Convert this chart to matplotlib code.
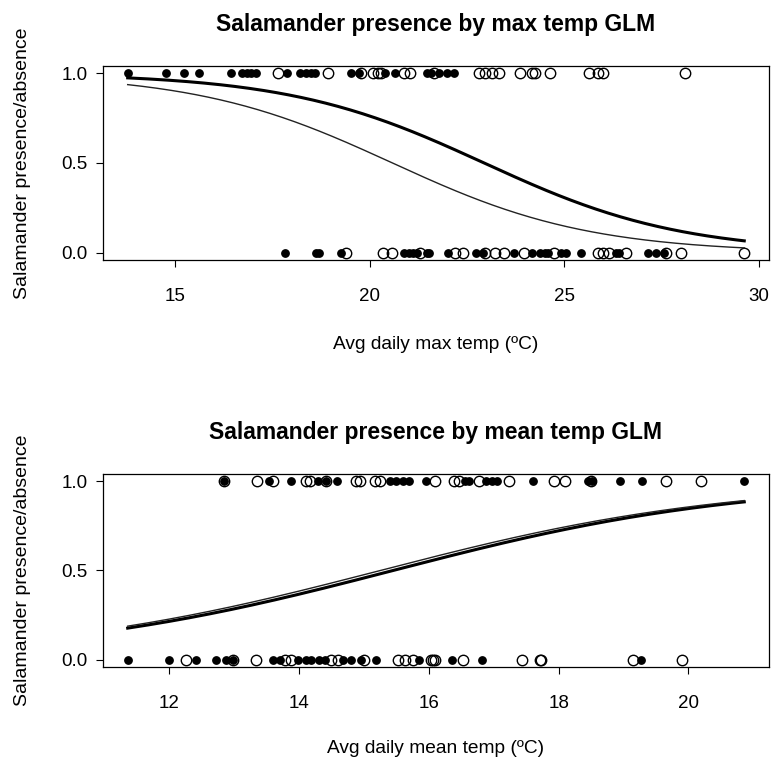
import numpy as np
import matplotlib
matplotlib.use('Agg')
import matplotlib.pyplot as plt

plt.rcParams['font.family'] = ['Liberation Sans', 'DejaVu Sans']

# Max temp panel: points at presence (1) and absence (0)
max_filled_1 = [13.78, 14.77, 15.23, 15.61, 16.43, 16.71, 16.85, 16.96, 17.07, 17.86, 18.21,
                18.36, 18.49, 18.6, 19.52, 19.72, 20.4, 20.64, 21.48, 21.56, 21.79, 21.99, 22.17]
max_open_1 = [17.65, 18.92, 19.77, 20.08, 20.2, 20.3, 20.89, 21.02, 21.66, 22.81, 22.96, 23.14,
              23.32, 23.85, 24.17, 24.25, 24.62, 25.64, 25.87, 25.99, 28.1]
max_filled_0 = [17.83, 18.62, 18.7, 19.25, 20.89, 21.0, 21.1, 21.2, 21.48, 21.53, 22.02, 22.73,
                22.9, 23.7, 24.16, 24.36, 24.5, 24.59, 24.92, 25.05, 25.43, 26.33, 26.4,
                27.14, 27.35, 27.55]
max_open_0 = [19.39, 20.33, 20.57, 21.28, 22.19, 22.4, 22.96, 23.22, 23.45, 23.97, 24.72, 25.85,
              26.0, 26.15, 26.58, 27.6, 27.99, 29.62]

# Mean temp panel
mean_filled_1 = [12.84, 13.53, 13.87, 14.29, 14.42, 14.58, 15.4, 15.5, 15.6, 15.7, 15.96,
                 16.56, 16.62, 16.88, 16.97, 17.05, 17.6, 18.45, 18.52, 18.95, 19.28, 20.86]
mean_open_1 = [12.84, 13.36, 13.6, 14.11, 14.17, 14.42, 14.88, 14.94, 15.17, 15.25, 16.1, 16.39,
               16.46, 16.78, 17.23, 17.93, 18.1, 18.5, 19.65, 20.19]
mean_filled_0 = [11.36, 12.0, 12.42, 12.72, 12.88, 12.99, 13.6, 13.7, 13.99, 14.11, 14.19,
                 14.3, 14.4, 14.67, 14.8, 14.95, 15.19, 15.85, 16.36, 16.82, 19.27]
mean_open_0 = [12.26, 12.99, 13.34, 13.79, 13.87, 14.5, 14.6, 15.0, 15.53, 15.63, 15.76, 16.04,
               16.07, 16.1, 16.53, 17.43, 17.72, 17.73, 19.15, 19.9]

# GLM curves (intercept, slope)
max_thick_coef = (9.06, -0.395)
max_thin_coef = (8.13, -0.395)
mean_thick_coef = (-5.794, 0.375)
mean_thin_coef = (-5.72, 0.375)

titles = ['Salamander presence by max temp GLM', 'Salamander presence by mean temp GLM']
xlabels = ['Avg daily max temp (ºC)', 'Avg daily mean temp (ºC)']
xticks = [[15, 20, 25, 30], [12, 14, 16, 18, 20]]


def logistic(x, coef):
    return 1 / (1 + np.exp(-(coef[0] + coef[1] * x)))


fig = plt.figure(figsize=(7.77, 7.62), dpi=100)
ax_top = fig.add_axes([0.1326, 0.6588, 0.857, 0.2546])
ax_bot = fig.add_axes([0.1326, 0.1247, 0.857, 0.2533])

panels = [
    (ax_top, max_filled_1, max_open_1, max_filled_0, max_open_0, max_thick_coef, max_thin_coef, -0.438),
    (ax_bot, mean_filled_1, mean_open_1, mean_filled_0, mean_open_0, mean_thick_coef, mean_thin_coef, -0.42),
]

for i, (ax, f1, o1, f0, o0, thick, thin, xlab_y) in enumerate(panels):
    allx = f1 + o1 + f0 + o0
    lo, hi = min(allx), max(allx)
    ext = (hi - lo) * 0.04

    ax.plot(f1, np.ones(len(f1)), 'o', color='black', markersize=5.3, linestyle='none')
    ax.plot(f0, np.zeros(len(f0)), 'o', color='black', markersize=5.3, linestyle='none')
    ax.plot(o1, np.ones(len(o1)), 'o', mfc='none', mec='black', markersize=7.5, mew=1.0, linestyle='none')
    ax.plot(o0, np.zeros(len(o0)), 'o', mfc='none', mec='black', markersize=7.5, mew=1.0, linestyle='none')

    xs = np.linspace(lo, hi, 300)
    ax.plot(xs, logistic(xs, thick), color='black', lw=2.2)
    ax.plot(xs, logistic(xs, thin), color='#222222', lw=1.0)

    ax.set_xlim(lo - ext, hi + ext)
    ax.set_ylim(-0.04, 1.04)
    ax.set_xticks(xticks[i])
    ax.set_yticks([0.0, 0.5, 1.0])
    ax.set_yticklabels(['0.0', '0.5', '1.0'])
    ax.tick_params(axis='x', length=5, width=0.8, pad=15, labelsize=13.5)
    ax.tick_params(axis='y', length=5, width=0.8, pad=6, labelsize=13.5)
    for s in ax.spines.values():
        s.set_linewidth(0.9)

    ax.set_title(titles[i], fontsize=16.5, fontweight='bold', pad=25)
    ax.set_xlabel(xlabels[i], fontsize=13.8)
    ax.xaxis.set_label_coords(0.5, xlab_y)
    ax.xaxis.label.set_va('center')
    ax.set_ylabel('Salamander presence/absence', fontsize=14)
    ax.yaxis.set_label_coords(-0.1216, 0.5)
    ax.yaxis.label.set_va('center')

plt.savefig('out.png', dpi=100)
